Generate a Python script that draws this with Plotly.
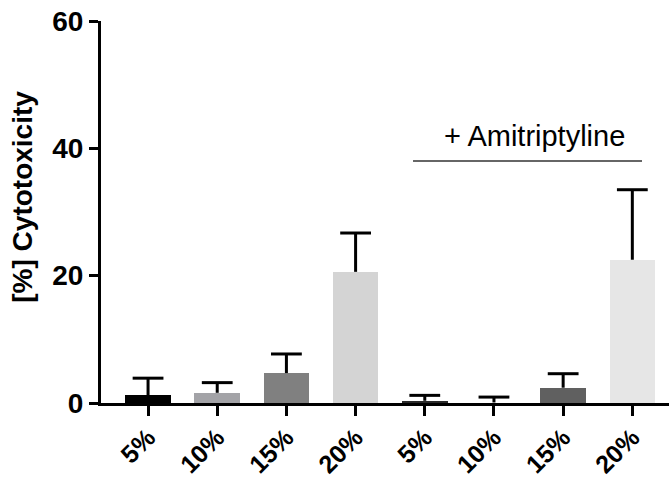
import plotly.graph_objects as go

labels = ["5%", "10%", "15%", "20%", "5%", "10%", "15%", "20%"]
values = [1.2, 1.6, 4.7, 20.6, 0.35, 0.08, 2.4, 22.5]
errors = [2.7, 1.6, 3.0, 6.1, 0.85, 0.85, 2.2, 11.0]
colors = ["#000000", "#a3a3a7", "#808080", "#d4d4d4", "#2a2a2a", "#ffffff", "#606060", "#e6e6e6"]
positions = list(range(len(labels)))

FONT = "Arial, Liberation Sans, sans-serif"

fig = go.Figure()
fig.add_trace(go.Bar(
    x=positions, y=values,
    marker=dict(color=colors, line=dict(width=0)),
    width=0.66,
    showlegend=False, hoverinfo="skip",
))

# upward-only error bars: stems + caps
ex, ey = [], []
for p, v, e in zip(positions, values, errors):
    ex += [p, p, None]
    ey += [v, v + e, None]
fig.add_trace(go.Scatter(x=ex, y=ey, mode="lines", line=dict(color="black", width=3),
                         showlegend=False, hoverinfo="skip", cliponaxis=False))
fig.add_trace(go.Scatter(x=positions, y=[v + e for v, e in zip(values, errors)], mode="markers",
                         marker=dict(symbol="line-ew", size=22, line=dict(color="black", width=3)),
                         showlegend=False, hoverinfo="skip", cliponaxis=False))

fig.add_shape(type="line", xref="x", yref="y", x0=3.83, x1=7.14, y0=38, y1=38,
              line=dict(color="#333333", width=1.5))
fig.add_annotation(x=5.59, y=42, xref="x", yref="y", text="+ Amitriptyline",
                   showarrow=False, font=dict(family=FONT, size=29, color="black"))

fig.add_annotation(x=0, y=0.54, xref="paper", yref="paper", xanchor="center", yanchor="middle",
                   xshift=-78, text="[%] Cytotoxicity", textangle=-90, showarrow=False,
                   font=dict(family=FONT, size=28, color="black", weight="bold"))

fig.update_layout(
    width=669, height=477,
    margin=dict(l=101, r=0, t=21, b=73.5),
    paper_bgcolor="white", plot_bgcolor="white",
    font=dict(family=FONT, color="black"),
    bargap=0,
)
fig.update_xaxes(
    range=[-0.68, 7.53], tickvals=positions, ticktext=labels, tickangle=-45,
    showline=True, linecolor="black", linewidth=3,
    ticks="outside", ticklen=10, tickwidth=3, tickcolor="black",
    tickfont=dict(family=FONT, size=25, color="black", weight="bold"),
    ticklabelstandoff=-3,
    showgrid=False, zeroline=False, automargin=False,
)
fig.update_yaxes(
    range=[0, 60], tickvals=[0, 20, 40, 60],
    showline=True, linecolor="black", linewidth=3,
    ticks="outside", ticklen=9, tickwidth=3, tickcolor="black",
    tickfont=dict(family=FONT, size=28, color="black", weight="bold"),
    showgrid=False, zeroline=False, automargin=False, ticklabeloverflow="allow",
)

# remove the page's default 8px body margin so the figure fills the window exactly
fig.write_html("out.html", config={"displayModeBar": False},
               post_script="document.body.style.margin='0';")
